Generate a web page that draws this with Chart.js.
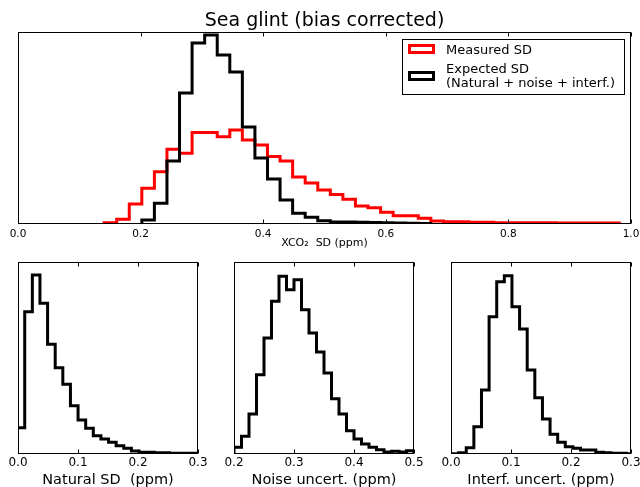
<!DOCTYPE html>
<html>
<head>
<meta charset="utf-8">
<script src="https://cdn.jsdelivr.net/npm/chart.js@4.4.0/dist/chart.umd.min.js"></script>
<style>
  body { margin: 0; background: #fff; width: 640px; height: 487px; position: relative; overflow: hidden; }
  canvas { position: absolute; }
</style>
</head>
<body>
<canvas id="topChart" width="660" height="256" style="left:0;top:0"></canvas>
<canvas id="natChart" width="214" height="240" style="left:0;top:250px"></canvas>
<canvas id="noiseChart" width="214" height="240" style="left:214px;top:250px"></canvas>
<canvas id="interfChart" width="220" height="240" style="left:428px;top:250px"></canvas>
<script>
/* ---------- DATA (relative frequency, arbitrary units) ---------- */

// top panel: XCO2 SD, bins of 0.0205 ppm
const binWidthTop = 0.0205;
const measuredStart = 0.1405;
const measuredSD = [1.3, 4.7, 20, 35.7, 52.3, 74.7, 70.7, 91.5, 91.5, 87.3,
                    94, 84, 79, 67.5, 63, 47, 41, 34, 29.5, 24.7,
                    18, 16.3, 11.7, 8.3, 8.3, 5.7, 3, 2.3, 2.3, 1.7,
                    1.7, 1.3, 1.3, 1.3, 1.3, 1.3, 1, 1, 1, 1, 1];
const expectedStart = 0.202;
const expectedSD = [4, 20.7, 63, 131, 181, 189, 169, 152, 97, 66,
                    45, 24, 10.7, 6.7, 3.3, 2, 2, 1.7, 1.5, 1.2, 1, 0.8, 0.6];
const topTicks = [0, 0.2, 0.4, 0.6, 0.8, 1.0];

// bottom panels
const naturalStart = -0.0015, naturalWidth = 0.0127;
const naturalSD = [26.3, 142.3, 179, 150.7, 109.7, 86.3, 69.7, 48.3, 34, 25.7,
                   18.3, 15, 11.7, 8.3, 5.7, 3, 1.7, 1.7, 1.3, 1.3, 0.7, 0.7, 0.7, 0.7];
const naturalTicks = [0, 0.1, 0.2, 0.3];

const noiseStart = 0.2, noiseWidth = 0.0125;
const noiseUnc = [6.7, 17.7, 40, 79.3, 116, 152.7, 177.7, 164.3, 174.3, 144.3,
                  121, 102, 81, 55.3, 40, 23.3, 15, 10, 6.7, 4.3, 2, 2.7, 2, 3.3];
const noiseTicks = [0.2, 0.3, 0.4, 0.5];

const interfStart = 0, interfWidth = 0.0127;
const interfUnc = [0.3, 1.3, 6.3, 27.3, 64, 137.3, 172.3, 178.3, 147.3, 125,
                   84, 56.3, 35, 19.7, 11.7, 7.3, 5.7, 4, 4, 1.7, 1.3, 0.7, 0.7, 0.3];
const interfTicks = [0, 0.1, 0.2, 0.3];

/* ---------- HELPERS ---------- */
Chart.defaults.font.family = "DejaVu Sans";
Chart.defaults.color = "#000";

// outline of a step histogram (like matplotlib histtype='step')
function stepPoints(start, width, values) {
    const pts = [{ x: start, y: 0 }];
    values.forEach((v, i) => {
        pts.push({ x: start + i * width, y: v });
        pts.push({ x: start + (i + 1) * width, y: v });
    });
    pts.push({ x: start + values.length * width, y: 0 });
    return pts;
}

function histDataset(label, color, start, width, values, order) {
    return {
        label: label,
        data: stepPoints(start, width, values),
        borderColor: color,
        borderWidth: 3,
        pointRadius: 0,
        fill: false,
        tension: 0,
        order: order
    };
}

// box round the plot with inward ticks on top and bottom
const framePlugin = {
    id: 'frame',
    afterDatasetsDraw(chart) {
        const { ctx, chartArea: a, scales: { x } } = chart;
        const l = Math.round(a.left) + 0.5, r = Math.round(a.right) - 0.5;
        const t = Math.round(a.top) + 0.5, b = Math.round(a.bottom) - 0.5;
        ctx.save();
        ctx.strokeStyle = '#000';
        ctx.lineWidth = 1;
        ctx.strokeRect(l, t, r - l, b - t);
        ctx.beginPath();
        x.ticks.forEach(tk => {
            const px = Math.round(x.getPixelForValue(tk.value)) + 0.5;
            ctx.moveTo(px, t); ctx.lineTo(px, t + 4);
            ctx.moveTo(px, b); ctx.lineTo(px, b - 4);
        });
        ctx.stroke();
        ctx.restore();
    }
};

// legend box in the top right corner of the top panel
const legendBox = {
    id: 'legendBox',
    afterDraw(chart) {
        const { ctx, chartArea: a } = chart;
        const bx = Math.round(a.right) - 228.5, by = Math.round(a.top) + 7.5;
        ctx.save();
        ctx.fillStyle = '#fff';
        ctx.fillRect(bx, by, 222, 55);
        ctx.strokeStyle = '#000';
        ctx.lineWidth = 1;
        ctx.strokeRect(bx, by, 222, 55);
        ctx.font = '13px "DejaVu Sans"';
        ctx.textBaseline = 'middle';
        ctx.textAlign = 'left';
        const ds = chart.data.datasets;
        const rows = [{ d: ds[0], sy: by + 6, ty: [by + 11] },
                      { d: ds[1], sy: by + 33, ty: [by + 30, by + 44.5] }];
        rows.forEach(row => {
            ctx.strokeStyle = row.d.borderColor;
            ctx.lineWidth = 3;
            ctx.strokeRect(bx + 7, row.sy, 24, 7);
            ctx.fillStyle = '#000';
            [].concat(row.d.label).forEach((s, i) => ctx.fillText(s, bx + 43.5, row.ty[i]));
        });
        ctx.restore();
    }
};

function xScale(min, max, ticks, title, tickSize, titleSize, height, tickPad, titlePad) {
    return {
        type: 'linear',
        min: min,
        max: max,
        grid: { display: false, drawTicks: false },
        border: { display: false },
        afterBuildTicks: s => { s.ticks = ticks.map(v => ({ value: v })); },
        ticks: {
            autoSkip: false,
            maxRotation: 0,
            padding: tickPad,
            font: { size: tickSize },
            callback: v => v.toFixed(1)
        },
        title: {
            display: true,
            text: title,
            font: { size: titleSize },
            padding: { top: 0, bottom: titlePad }
        },
        afterFit: s => { s.height = height; }
    };
}

function baseOptions(xs, padding, extraPlugins) {
    return {
        responsive: false,
        animation: false,
        events: [],
        layout: { padding: padding },
        scales: {
            x: xs,
            y: { display: false, min: 0, max: 192 }
        },
        plugins: Object.assign({
            legend: { display: false },
            tooltip: { enabled: false },
            title: { display: false }
        }, extraPlugins || {})
    };
}

/* ---------- TOP PANEL ---------- */
new Chart(document.getElementById('topChart'), {
    type: 'line',
    data: {
        datasets: [
            histDataset('Measured SD', '#ff0000', measuredStart, binWidthTop, measuredSD, 1),
            histDataset(['Expected SD', '(Natural + noise + interf.)'], '#000000', expectedStart, binWidthTop, expectedSD, 0)
        ]
    },
    options: baseOptions(
        xScale(0, 1, topTicks, 'XCO\u2082  SD (ppm)', 10.5, 11, 32, 4, 6.5),
        { left: 18, right: 29, top: 0.1, bottom: 0 },
        {
            title: {
                display: true,
                text: 'Sea glint (bias corrected)',
                font: { size: 19, weight: 'normal', lineHeight: 1.1 },
                color: '#000',
                padding: { top: 11, bottom: 0 }
            }
        }
    ),
    plugins: [framePlugin, legendBox]
});

/* ---------- BOTTOM PANELS ---------- */
function smallPanel(id, label, start, width, values, min, max, ticks, padL, padR) {
    new Chart(document.getElementById(id), {
        type: 'line',
        data: { datasets: [histDataset(label, '#000000', start, width, values, 0)] },
        options: baseOptions(
            xScale(min, max, ticks, label, 12, 14.5, 36, 2, 1.3),
            { left: padL, right: padR, top: 12, bottom: 0 }
        ),
        plugins: [framePlugin]
    });
}

smallPanel('natChart', 'Natural SD  (ppm)', naturalStart, naturalWidth, naturalSD, 0, 0.3, naturalTicks, 18, 16);
smallPanel('noiseChart', 'Noise uncert. (ppm)', noiseStart, noiseWidth, noiseUnc, 0.2, 0.5, noiseTicks, 20, 14);
smallPanel('interfChart', 'Interf. uncert. (ppm)', interfStart, interfWidth, interfUnc, 0, 0.3, interfTicks, 23, 17);
</script>
</body>
</html>
